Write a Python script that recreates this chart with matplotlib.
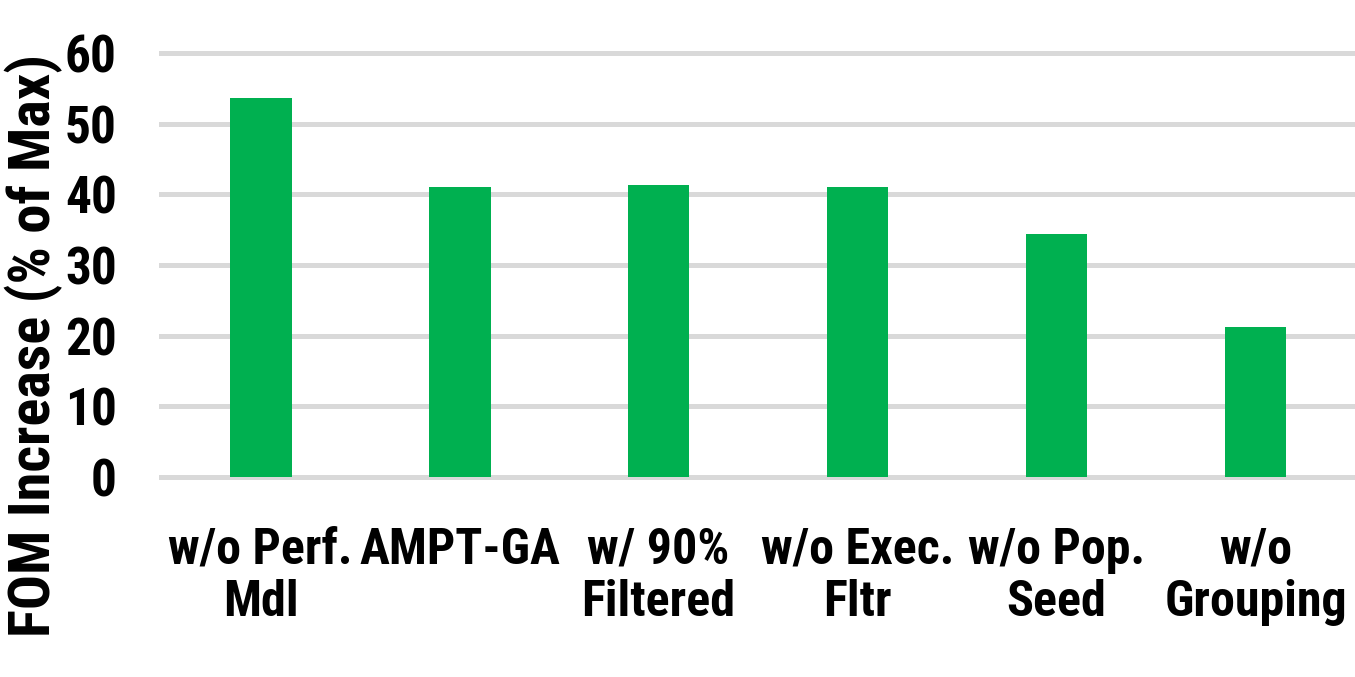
import matplotlib.pyplot as plt

# ablation results, FOM increase as % of max
configs = ['w/o Perf.\nMdl', 'AMPT-GA', 'w/ 90%\nFiltered', 'w/o Exec.\nFltr',
           'w/o Pop.\nSeed', 'w/o\nGrouping']
fom_increase = [53.6, 41.0, 41.4, 41.0, 34.4, 21.2]
yticks = [0, 10, 20, 30, 40, 50, 60]

plt.rcParams['font.family'] = ['Roboto Condensed', 'DejaVu Sans']
plt.rcParams['font.stretch'] = 'condensed'
plt.rcParams['font.weight'] = 'bold'

fig = plt.figure(figsize=(13.55, 6.77), dpi=100)
ax = fig.add_axes([0.119, 0.2959, 0.881, 0.6254])

x = range(len(configs))
ax.bar(x, fom_increase, width=0.31, color='#00b050', zorder=3)

ax.set_xlim(-0.5, len(configs) - 0.5)
ax.set_ylim(0, 60)
ax.set_yticks(yticks)
ax.set_yticklabels([str(v) for v in yticks], fontsize=37, fontweight='bold')
ax.set_xticks(list(x))
ax.set_xticklabels(configs, fontsize=36, fontweight='bold', linespacing=1.15)

ax.tick_params(axis='both', length=0)
ax.tick_params(axis='x', pad=36)
ax.tick_params(axis='y', pad=32)
ax.grid(axis='y', color='#d9d9d9', linewidth=3.6, zorder=0, clip_on=False)
for s in ax.spines.values():
    s.set_visible(False)

fig.text(0.025, 0.49, 'FOM Increase (% of Max)', rotation=90, fontsize=42,
         fontweight='bold', ha='center', va='center')

fig.savefig('out.png', dpi=100)
